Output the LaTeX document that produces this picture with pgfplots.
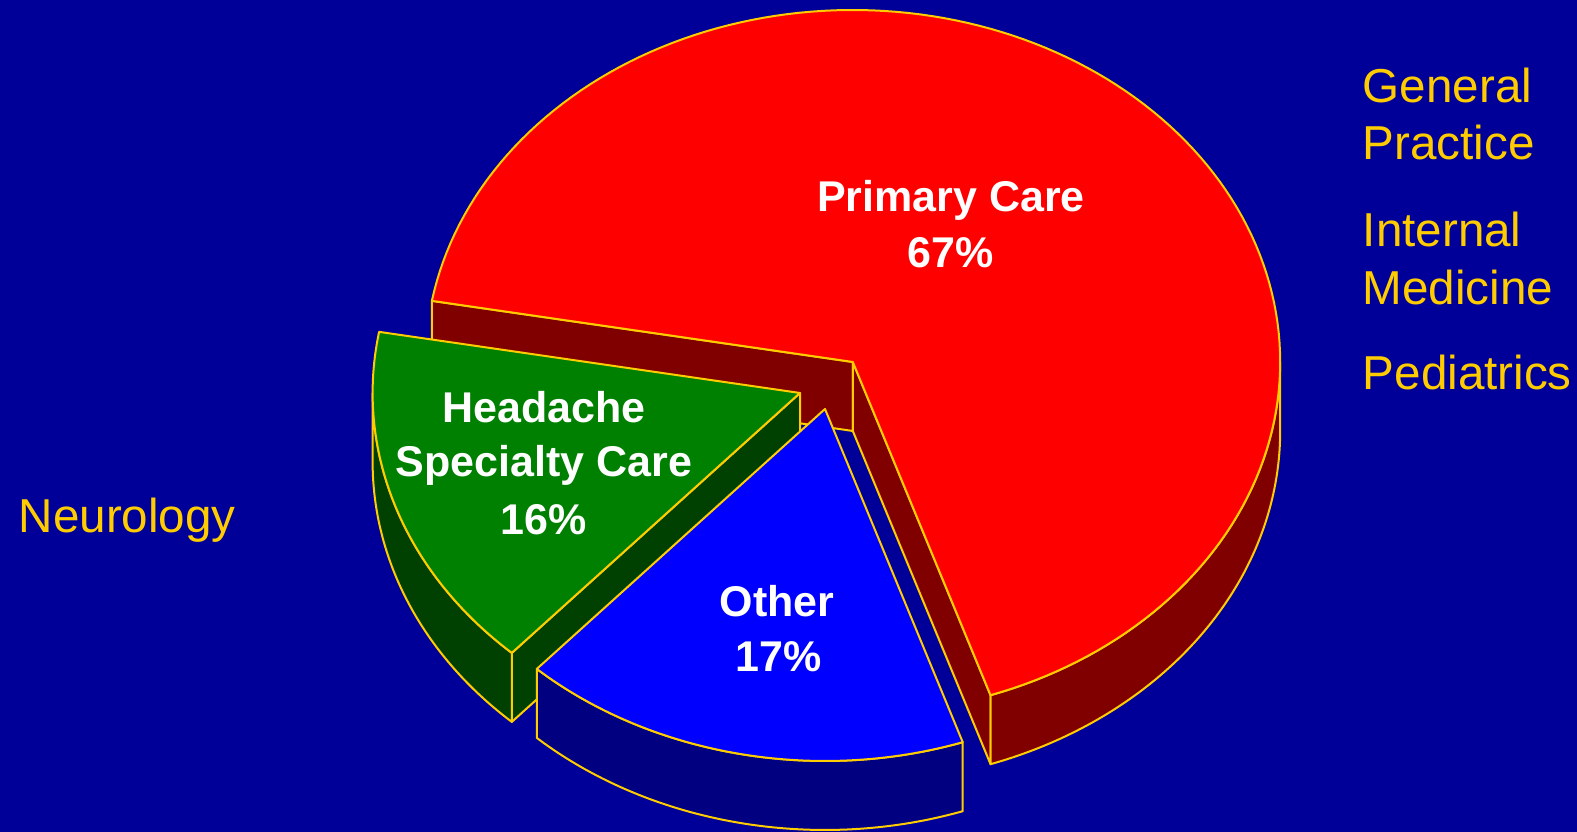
\documentclass[border=0pt]{standalone}
\usepackage{fontspec}
\setmainfont{Liberation Sans}
\usepackage{pgfplots}
\usepackage{pgfplotstable}
\pgfplotsset{compat=1.18}
\usepgfplotslibrary{fillbetween}

\definecolor{bgblue}{HTML}{000099}
\definecolor{edge}{HTML}{FFCC00}
\definecolor{redtop}{HTML}{FF0000}
\definecolor{redside}{HTML}{800000}
\definecolor{greentop}{HTML}{008000}
\definecolor{greenside}{HTML}{004000}
\definecolor{bluetop}{HTML}{0000FF}
\definecolor{blueside}{HTML}{000080}

% shares of the pie, in percent
\pgfplotstableread{
share
67
16
17
}\piedata

% ellipse radii and depth, in pixel units of the axis
\def\rx{427.4}
\def\ry{352}
\def\dep{69}

\newcommand{\lbl}{\fontsize{10.75}{12}\selectfont\bfseries}
\newcommand{\side}{\fontsize{11.9}{14}\selectfont}

% radial face: centre x, centre y, angle, colour
\newcommand{\radface}[4]{%
  \pgfmathsetmacro{\px}{#1+\rx*cos(#3)}%
  \pgfmathsetmacro{\py}{#2+\ry*sin(#3)}%
  \pgfmathsetmacro{\pyb}{\py-\dep}%
  \pgfmathsetmacro{\cyb}{#2-\dep}%
  \addplot[fill=#4, draw=edge, line width=0.5pt, line join=round]
    coordinates {(#1,#2) (\px,\py) (\px,\pyb) (#1,\cyb)} -- cycle;
}
% curved side: centre x, centre y, from, to, colour, name
\newcommand{\sideband}[6]{%
  \addplot[draw=none, name path=#6t, domain=#3:#4, samples=90]
    ({#1+\rx*cos(x)},{#2+\ry*sin(x)});
  \addplot[draw=none, name path=#6b, domain=#3:#4, samples=90]
    ({#1+\rx*cos(x)},{#2-\dep+\ry*sin(x)});
  \addplot[fill=#5, draw=edge, line width=0.5pt, line join=round]
    fill between[of=#6t and #6b, on layer=main];
}
% top face: centre x, centre y, from, to, colour
\newcommand{\topface}[5]{%
  \addplot[fill=#5, draw=edge, line width=0.5pt, line join=round, domain=#3:#4, samples=150]
    ({#1+\rx*cos(x)},{#2+\ry*sin(x)}) -- (axis cs:#1,#2) -- cycle;
}

\begin{document}
\begin{tikzpicture}
\pgfplotstablegetelem{0}{share}\of\piedata \let\pA\pgfplotsretval
\pgfplotstablegetelem{1}{share}\of\piedata \let\pB\pgfplotsretval
\pgfplotstablegetelem{2}{share}\of\piedata \let\pC\pgfplotsretval
\pgfmathsetmacro{\aZ}{-71.2}
\pgfmathsetmacro{\aA}{\aZ+3.6*\pA}
\pgfmathsetmacro{\aB}{\aA+3.6*\pB}
\pgfmathsetmacro{\aC}{\aB+3.6*\pC}
\begin{axis}[
  x=0.25pt, y=0.25pt,
  xmin=0, xmax=1577, ymin=0, ymax=832,
  hide axis, clip=false,
]
\fill[bgblue] (axis cs:0,0) rectangle (axis cs:1577,832);

% Primary Care (back)
\radface{852.8}{470}{\aA}{redside}
\radface{852.8}{470}{\aZ}{redside}
\sideband{852.8}{470}{\aZ}{0}{redside}{red}
\topface{852.8}{470}{\aZ}{\aA}{redtop}

% Headache Specialty Care
\radface{800}{439}{\aB}{greenside}
\sideband{800}{439}{180}{\aB}{greenside}{grn}
\topface{800}{439}{\aA}{\aB}{greentop}

% Other (front)
\sideband{825}{423}{\aB}{\aC}{blueside}{blu}
\topface{825}{423}{\aB}{\aC}{bluetop}

\node[anchor=base, text=white, font=\lbl] at (axis cs:951,620) {Primary Care};
\node[anchor=base, text=white, font=\lbl] at (axis cs:951,564) {\pA\%};
\node[anchor=base, text=white, font=\lbl] at (axis cs:544,409) {Headache};
\node[anchor=base, text=white, font=\lbl] at (axis cs:544,355) {Specialty Care};
\node[anchor=base, text=white, font=\lbl] at (axis cs:544,297) {\pB\%};
\node[anchor=base, text=white, font=\lbl] at (axis cs:777,215) {Other};
\node[anchor=base, text=white, font=\lbl] at (axis cs:779,160) {\pC\%};

\node[anchor=base west, inner sep=0pt, text=edge, font=\side] at (axis cs:1362,729) {General};
\node[anchor=base west, inner sep=0pt, text=edge, font=\side] at (axis cs:1362,672) {Practice};
\node[anchor=base west, inner sep=0pt, text=edge, font=\side] at (axis cs:1362,585) {Internal};
\node[anchor=base west, inner sep=0pt, text=edge, font=\side] at (axis cs:1362,527) {Medicine};
\node[anchor=base west, inner sep=0pt, text=edge, font=\side] at (axis cs:1362,442) {Pediatrics};
\node[anchor=base west, inner sep=0pt, text=edge, font=\side] at (axis cs:18,299) {Neurology};
\end{axis}
\end{tikzpicture}
\end{document}
